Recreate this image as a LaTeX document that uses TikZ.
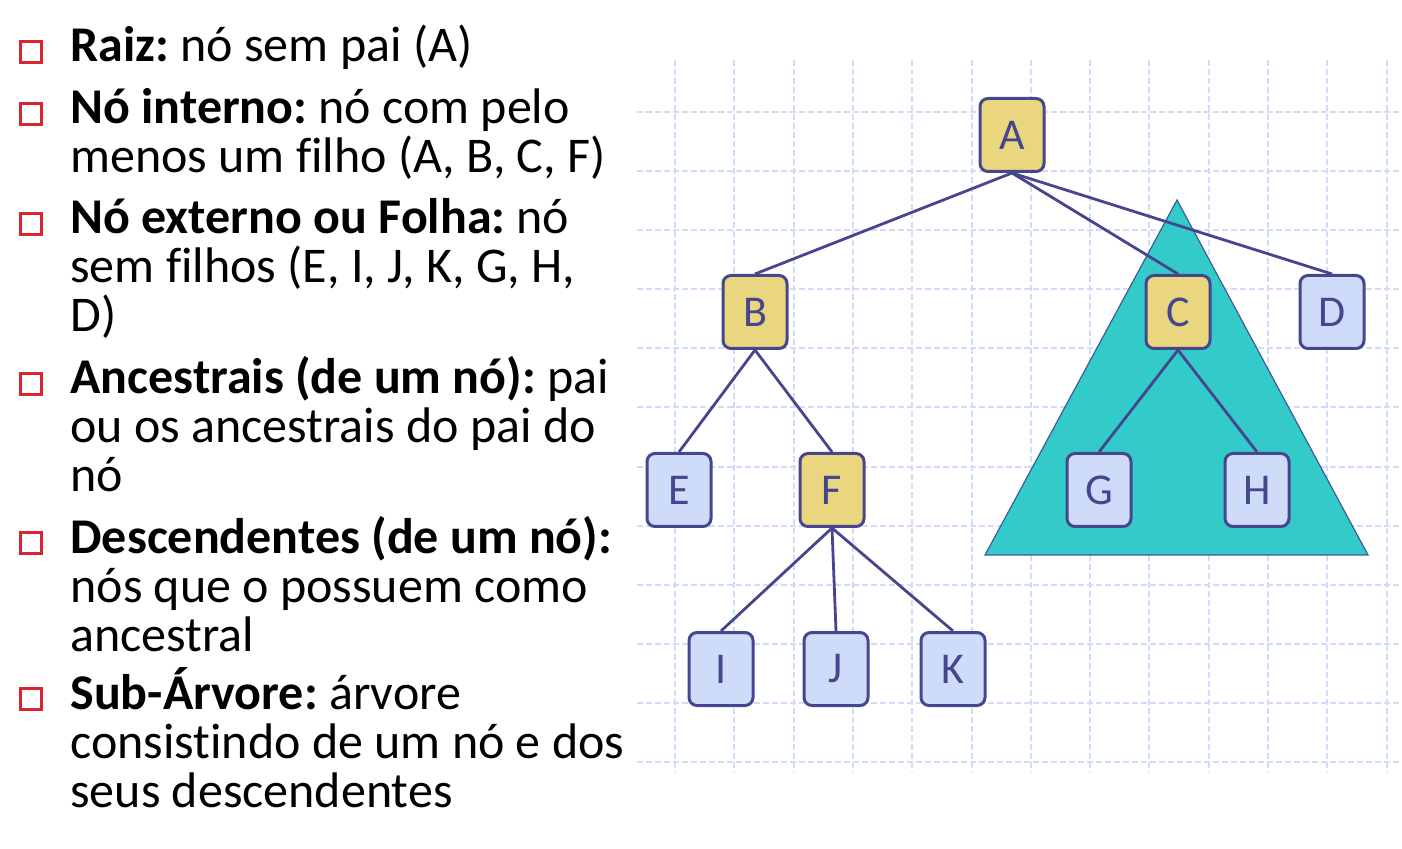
\documentclass[tikz,border=0pt]{standalone}
\usepackage{fontspec}
\setmainfont{Carlito}[Ligatures=NoCommon]
\usetikzlibrary{positioning}
\frenchspacing

\definecolor{arco}{RGB}{70,70,142}
\definecolor{ouro}{RGB}{234,214,126}
\definecolor{azul}{RGB}{206,220,250}
\definecolor{turquesa}{RGB}{51,202,202}
\definecolor{contorno}{RGB}{60,92,150}
\definecolor{grade}{RGB}{208,220,250}
\definecolor{vermelho}{RGB}{218,36,48}

\begin{document}
\begin{tikzpicture}[x=0.5pt,y=-0.5pt,
  every edge/.style={draw,arco,line width=1.4pt},
  interno/.style={draw=arco,fill=ouro,line width=1.5pt,rounded corners=4pt,
    minimum width=32pt,minimum height=36.5pt,inner sep=0pt,text=arco,
    font=\fontsize{22}{22}\selectfont},
  externo/.style={interno,fill=azul},
  linha/.style={grade,line width=1pt,dash pattern=on 3pt off 1.5pt},
  item/.style={anchor=base west,inner sep=0pt,align=left,
    font=\fontsize{25}{24.5}\selectfont},
  marca/.style={draw=vermelho,line width=1.3pt,minimum size=10.5pt,inner sep=0pt}]
  \useasboundingbox (0,0) rectangle (1402,849);

  % grade de fundo
  \foreach \k in {0,...,11}
    \draw[linha] (637,{112+59.1*\k}) -- (1402,{112+59.1*\k});
  \foreach \k in {0,...,12}
    \draw[linha] ({675+59.3*\k},60) -- ({675+59.3*\k},772);

  % sub-arvore de C
  \draw[contorno,fill=turquesa,line width=0.6pt] (1177,200) -- (1368,555) -- (985,555) -- cycle;

  \node[interno] (A) at (1012,135) {A};
  \node[interno] (B) at (755,312)  {B};
  \node[interno] (C) at (1178,312) {C};
  \node[externo] (D) at (1332,312) {D};
  \node[externo] (E) at (679,490)  {E};
  \node[interno] (F) at (832,490)  {F};
  \node[externo] (G) at (1099,490) {G};
  \node[externo] (H) at (1257,490) {H};
  \node[externo] (I) at (721,669)  {I};
  \node[externo] (J) at (836,669)  {J};
  \node[externo] (K) at (953,669)  {K};

  \path (A.south) edge (B.north)
                  edge (C.north)
                  edge (D.north)
        (B.south) edge (E.north)
                  edge (F.north)
        (C.south) edge (G.north)
                  edge (H.north)
        (F.south) edge (I.north)
                  edge (J.north)
                  edge (K.north);

  % definicoes (ancoradas na base da ultima linha)
  \node[marca] (m1) at (31,52)  {};
  \node[item]  (t1) at (70,62)  {\textbf{Raiz:} nó sem pai (A)};
  \node[marca] (m2) at (31,114) {};
  \node[item]  (t2) at (70,173) {\textbf{Nó interno:} nó com pelo\\menos um filho (A, B, C, F)};
  \node[marca] (m3) at (31,224) {};
  \node[item]  (t3) at (70,332) {\textbf{Nó externo ou Folha:} nó\\sem filhos (E, I, J, K, G, H,\\D)};
  \node[marca] (m4) at (31,384) {};
  \node[item]  (t4) at (70,492) {\textbf{Ancestrais (de um nó):} pai\\ou os ancestrais do pai do\\nó};
  \node[marca] (m5) at (31,543) {};
  \node[item]  (t5) at (70,651) {\textbf{Descendentes (de um nó):}\\nós que o possuem como\\ancestral};
  \node[marca] (m6) at (31,699) {};
  \node[item]  (t6) at (70,807) {\textbf{Sub-Árvore:} árvore\\consistindo de um nó e dos\\seus descendentes};
\end{tikzpicture}
\end{document}
